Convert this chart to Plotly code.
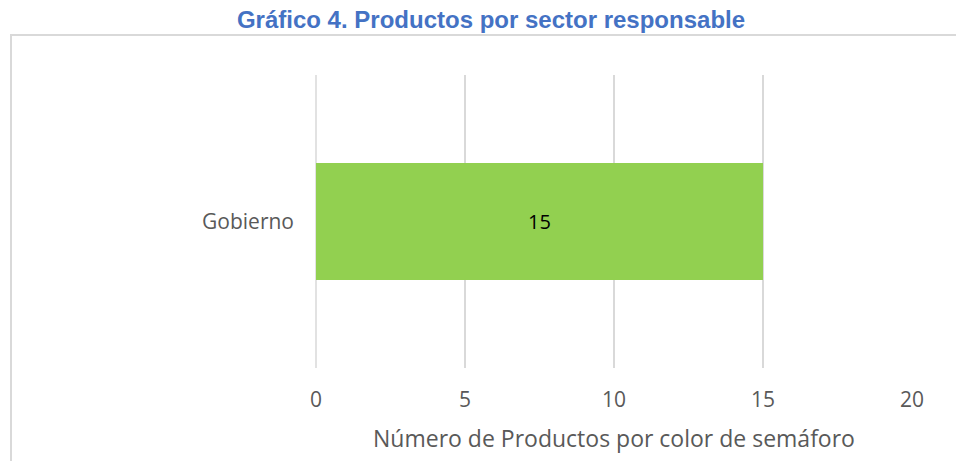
import plotly.graph_objects as go

categories = ["Gobierno"]
values = [15]
tick_vals = [0, 5, 10, 15, 20]
tick_text = ["0", "5", "10", "15", "20"]

W, H = 956, 461
L, R, T, B = 316, 44, 75, 93
pw, ph = W - L - R, H - T - B

fig = go.Figure(go.Bar(
    y=categories, x=values, orientation="h",
    marker=dict(color="#92D050", line=dict(width=0)),
    text=[str(v) for v in values], textposition="inside",
    insidetextanchor="middle",
    textfont=dict(family="Open Sans", size=20, color="#000000"),
    hoverinfo="skip",
))

fig.update_layout(
    width=W, height=H,
    margin=dict(l=L, r=R, t=T, b=B, autoexpand=False),
    paper_bgcolor="white", plot_bgcolor="white",
    bargap=0.6,
    showlegend=False,
    title=dict(
        text="<b>Gráfico 4. Productos por sector responsable</b>",
        font=dict(family="Liberation Sans", size=24, color="#4472C4"),
        x=491 / W, xanchor="center",
        y=1 - 20 / H, yanchor="middle", yref="container",
    ),
    xaxis=dict(
        range=[0, 20], tickvals=tick_vals, ticktext=tick_text,
        showgrid=True, gridcolor="#D9D9D9", gridwidth=1.5,
        zeroline=False, showline=False, ticks="",
        ticklabelstandoff=17,
        tickfont=dict(family="Open Sans", size=21, color="#595959"),
        title=dict(text="Número de Productos por color de semáforo",
                   font=dict(family="Open Sans", size=23, color="#595959"),
                   standoff=18),
    ),
    yaxis=dict(
        showgrid=False, zeroline=False, showline=False, ticks="",
        ticklabelstandoff=21,
        tickfont=dict(family="Open Sans", size=21, color="#595959"),
    ),
    shapes=[dict(
        type="rect", xref="paper", yref="paper",
        x0=(11 - L) / pw, x1=(W + 20 - L) / pw,
        y0=-1, y1=(T + ph - 35) / ph,
        line=dict(color="#D9D9D9", width=2), fillcolor="rgba(0,0,0,0)",
        layer="below",
    ), dict(
        type="line", xref="paper", yref="paper",
        x0=0, x1=0, y0=0, y1=1,
        line=dict(color="#D9D9D9", width=1.5), layer="below",
    )],
)

fig.write_html("out.html", config={"displayModeBar": False},
               post_script="document.body.style.margin='0';")
